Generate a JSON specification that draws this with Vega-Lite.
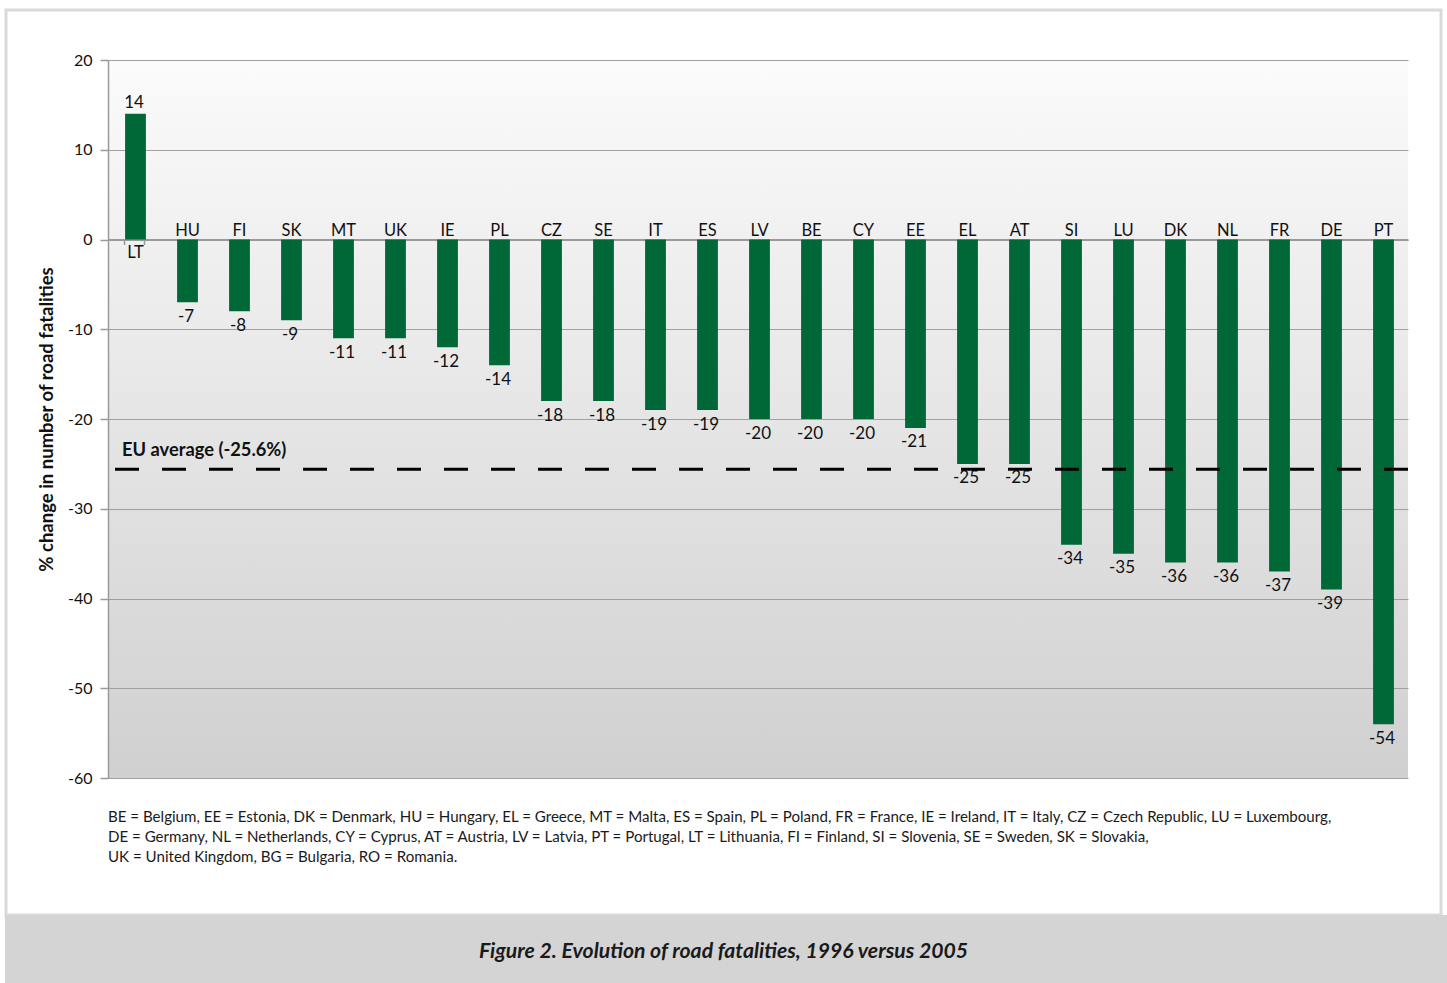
{
  "$schema": "https://vega.github.io/schema/vega-lite/v6.json",
  "width": 1300,
  "height": 718,
  "autosize": {"type": "none"},
  "padding": {"left": 108, "top": 60, "right": 39, "bottom": 205},
  "background": "white",
  "config": {
    "font": "Lato",
    "view": {
      "stroke": null,
      "fill": {
        "gradient": "linear",
        "x1": 0, "y1": 0, "x2": 0, "y2": 1,
        "stops": [
          {"offset": 0, "color": "#fbfbfb"},
          {"offset": 1, "color": "#d0d0d0"}
        ]
      }
    }
  },
  "datasets": {
    "bars": [
      {"code": "LT", "value": 14},
      {"code": "HU", "value": -7},
      {"code": "FI", "value": -8},
      {"code": "SK", "value": -9},
      {"code": "MT", "value": -11},
      {"code": "UK", "value": -11},
      {"code": "IE", "value": -12},
      {"code": "PL", "value": -14},
      {"code": "CZ", "value": -18},
      {"code": "SE", "value": -18},
      {"code": "IT", "value": -19},
      {"code": "ES", "value": -19},
      {"code": "LV", "value": -20},
      {"code": "BE", "value": -20},
      {"code": "CY", "value": -20},
      {"code": "EE", "value": -21},
      {"code": "EL", "value": -25},
      {"code": "AT", "value": -25},
      {"code": "SI", "value": -34},
      {"code": "LU", "value": -35},
      {"code": "DK", "value": -36},
      {"code": "NL", "value": -36},
      {"code": "FR", "value": -37},
      {"code": "DE", "value": -39},
      {"code": "PT", "value": -54}
    ],
    "eu": [{"label": "EU average (-25.6%)", "value": -25.6}],
    "caption": [{"text": "Figure 2. Evolution of road fatalities, 1996 versus 2005"}],
    "note": [{"text": "BE = Belgium, EE = Estonia, DK = Denmark, HU = Hungary, EL = Greece, MT = Malta, ES = Spain, PL = Poland, FR = France, IE = Ireland, IT = Italy, CZ = Czech Republic, LU = Luxembourg,\nDE = Germany, NL = Netherlands, CY = Cyprus, AT = Austria, LV = Latvia, PT = Portugal, LT = Lithuania, FI = Finland, SI = Slovenia, SE = Sweden, SK = Slovakia,\nUK = United Kingdom, BG = Bulgaria, RO = Romania."}],
    "frame": [{"part": "frame"}]
  },
  "resolve": {"scale": {"x": "independent"}},
  "layer": [
    {
      "data": {"name": "frame"},
      "mark": {"type": "rect", "fill": null, "filled": false, "stroke": "#dadada", "strokeWidth": 3},
      "encoding": {
        "x": {"datum": -102, "type": "quantitative", "scale": {"domain": [0, 1300]}, "axis": null},
        "x2": {"datum": 1333},
        "y": {"datum": 25.57, "type": "quantitative"},
        "y2": {"datum": -75.26}
      }
    },
    {
      "data": {"name": "frame"},
      "mark": {"type": "rect", "color": "#d4d4d4"},
      "encoding": {
        "x": {"datum": -103, "type": "quantitative", "scale": {"domain": [0, 1300]}, "axis": null},
        "x2": {"datum": 1339},
        "y": {"datum": -75.26, "type": "quantitative"},
        "y2": {"datum": -83}
      }
    },
    {
      "data": {"name": "caption"},
      "mark": {"type": "text", "font": "Lato", "fontSize": 21.2, "fontWeight": "bold", "fontStyle": "italic", "color": "#1a1a1a", "align": "center", "baseline": "middle"},
      "encoding": {
        "x": {"datum": 615.5, "type": "quantitative", "scale": {"domain": [0, 1300]}, "axis": null},
        "y": {"datum": -79.42, "type": "quantitative"},
        "text": {"field": "text"}
      }
    },
    {
      "data": {"name": "note"},
      "mark": {"type": "text", "font": "Lato", "fontSize": 15.1, "color": "#1a1a1a", "align": "left", "baseline": "top", "lineBreak": "\n", "lineHeight": 20},
      "encoding": {
        "x": {"datum": 0, "type": "quantitative", "scale": {"domain": [0, 1300]}, "axis": null},
        "y": {"datum": -63.51, "type": "quantitative"},
        "text": {"field": "text"}
      }
    },
    {
      "data": {"name": "bars"},
      "layer": [
        {
          "mark": {"type": "bar", "color": "#006837", "xOffset": 1.5},
          "encoding": {
            "x": {
              "field": "code", "type": "nominal", "sort": null,
              "scale": {"paddingInner": 0.6, "paddingOuter": 0.3},
              "axis": {"orient": "bottom", "offset": -538.5, "labels": false, "title": null, "tickBand": "extent", "tickSize": 5, "domainColor": "#9a9a9a", "domainWidth": 2, "tickColor": "#9a9a9a", "tickWidth": 1.5, "grid": false}
            },
            "y": {
              "field": "value", "type": "quantitative",
              "scale": {"domain": [-60, 20], "nice": false, "zero": false},
              "axis": {
                "values": [-60, -50, -40, -30, -20, -10, 0, 10, 20],
                "labelExpr": "'' + datum.value",
                "grid": true, "gridColor": "#a0a0a0", "gridWidth": 1,
                "domainColor": "#9a9a9a", "domainWidth": 1.5,
                "tickColor": "#9a9a9a", "tickSize": 8, "tickWidth": 1.5,
                "labelFontSize": 16, "labelColor": "#111111", "labelPadding": 8, "labelFont": "Lato",
                "title": "% change in number of road fatalities",
                "titleFontSize": 18.5, "titleFontWeight": "bold", "titleColor": "#111111", "titlePadding": 11, "titleFont": "Lato"
              }
            },
            "y2": {"datum": 0}
          }
        },
        {
          "transform": [{"filter": "datum.value < 0"}],
          "mark": {"type": "text", "font": "Lato", "fontSize": 17, "color": "#111111", "baseline": "top", "dy": 6.5},
          "encoding": {
            "x": {"field": "code", "type": "nominal", "sort": null, "band": 0.5},
            "y": {"field": "value", "type": "quantitative"},
            "text": {"field": "value", "type": "nominal"}
          }
        },
        {
          "transform": [{"filter": "datum.value >= 0"}],
          "mark": {"type": "text", "font": "Lato", "fontSize": 17, "color": "#111111", "baseline": "alphabetic", "dy": -6},
          "encoding": {
            "x": {"field": "code", "type": "nominal", "sort": null, "band": 0.5},
            "y": {"field": "value", "type": "quantitative"},
            "text": {"field": "value", "type": "nominal"}
          }
        },
        {
          "transform": [{"filter": "datum.value < 0"}],
          "mark": {"type": "text", "font": "Lato", "fontSize": 16.5, "color": "#111111", "baseline": "alphabetic", "dy": -4, "xOffset": 1.5},
          "encoding": {
            "x": {"field": "code", "type": "nominal", "sort": null, "band": 0.5},
            "y": {"datum": 0, "type": "quantitative"},
            "text": {"field": "code"}
          }
        },
        {
          "transform": [{"filter": "datum.value >= 0"}],
          "mark": {"type": "text", "font": "Lato", "fontSize": 16.5, "color": "#111111", "baseline": "top", "dy": 5, "xOffset": 1.5},
          "encoding": {
            "x": {"field": "code", "type": "nominal", "sort": null, "band": 0.5},
            "y": {"datum": 0, "type": "quantitative"},
            "text": {"field": "code"}
          }
        },
        {
          "data": {"name": "eu"},
          "mark": {"type": "rule", "color": "#000000", "strokeWidth": 3, "strokeDash": [24, 23]},
          "encoding": {
            "y": {"field": "value", "type": "quantitative"}
          }
        }
      ]
    },
    {
      "data": {"name": "eu"},
      "mark": {"type": "text", "font": "Lato", "fontSize": 18.3, "fontWeight": "bold", "color": "#111111", "align": "left", "baseline": "alphabetic", "dy": -13},
      "encoding": {
        "x": {"datum": 14, "type": "quantitative", "scale": {"domain": [0, 1300]}, "axis": null},
        "y": {"field": "value", "type": "quantitative"},
        "text": {"field": "label"}
      }
    }
  ]
}
